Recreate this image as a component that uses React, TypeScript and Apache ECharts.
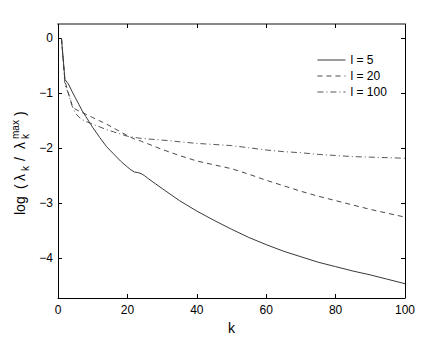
import React, { useEffect, useRef } from "react";
import * as echarts from "echarts";

const kValues = [1, 2, 3, 4, 5, 6, 7, 8, 10, 12, 14, 16, 18, 20, 21, 22, 23, 24, 25, 26, 28, 30, 35, 40, 45, 50, 55, 60, 65, 70, 75, 80, 85, 90, 95, 100];
const l5Values = [0, -0.75, -0.83, -0.96, -1.08, -1.2, -1.32, -1.42, -1.62, -1.8, -1.97, -2.1, -2.23, -2.34, -2.39, -2.43, -2.44, -2.46, -2.5, -2.55, -2.64, -2.73, -2.95, -3.14, -3.31, -3.47, -3.62, -3.75, -3.87, -3.97, -4.07, -4.15, -4.23, -4.3, -4.38, -4.46];
const l20Values = [0, -0.78, -1.0, -1.2, -1.29, -1.32, -1.35, -1.38, -1.44, -1.5, -1.56, -1.63, -1.7, -1.77, -1.8, -1.83, -1.85, -1.87, -1.9, -1.92, -1.97, -2.02, -2.13, -2.23, -2.3, -2.37, -2.47, -2.58, -2.68, -2.78, -2.87, -2.95, -3.03, -3.11, -3.18, -3.25];
const l100Values = [0, -0.85, -1.0, -1.22, -1.36, -1.43, -1.48, -1.51, -1.56, -1.61, -1.66, -1.7, -1.74, -1.78, -1.79, -1.8, -1.81, -1.82, -1.82, -1.83, -1.84, -1.85, -1.88, -1.91, -1.93, -1.95, -1.99, -2.03, -2.06, -2.08, -2.11, -2.13, -2.15, -2.16, -2.17, -2.18];
const seriesNames = ["l = 5", "l = 20", "l = 100"];
const xTicks = [0, 20, 40, 60, 80, 100];
const yTicks = [0, -1, -2, -3, -4];
const xAxisTitle = "k";

const FONT = "'Liberation Sans', Arial, Helvetica, sans-serif";

const pairs = (ys: number[]) => kValues.map((k, i) => [k, ys[i]]);

export default function App() {
  const ref = useRef<HTMLDivElement>(null);
  useEffect(() => {
    if (!ref.current) return;
    const chart = echarts.init(ref.current, null, { renderer: "svg" });
    const fmtY = (v: number) => String(v).replace("-", "\u2212");
    const baseAxisLine = { show: true, onZero: false, lineStyle: { color: "#000", width: 1 } };
    const tick = { show: true, inside: true, length: 4, lineStyle: { color: "#000", width: 1 } };
    const mainTxt = (text: string, x: number) => ({
      type: "text", x, y: 0,
      style: { text, font: `14px ${FONT}`, fill: "#000", align: "left", verticalAlign: "middle" },
    });
    const smallTxt = (text: string, x: number, y: number) => ({
      type: "text", x, y,
      style: { text, font: `10px ${FONT}`, fill: "#000", align: "left", verticalAlign: "middle" },
    });
    chart.setOption({
      animation: false,
      backgroundColor: "#fff",
      grid: { left: 58, right: 43, top: 24, bottom: 39, outerBoundsMode: "none" },
      legend: {
        show: true,
        orient: "vertical",
        left: 312,
        top: 49,
        itemWidth: 28,
        itemHeight: 14,
        itemGap: 4,
        data: seriesNames,
        itemStyle: { color: "rgba(0,0,0,0)", borderWidth: 0, opacity: 0 },
        lineStyle: { width: 0.9 },
        textStyle: { fontFamily: FONT, fontSize: 12, color: "#000" },
      },
      xAxis: [
        {
          type: "value", min: xTicks[0], max: xTicks[xTicks.length - 1], interval: 20, position: "bottom",
          axisLine: baseAxisLine, axisTick: tick,
          axisLabel: { fontFamily: FONT, fontSize: 12, color: "#000", margin: 6 },
          splitLine: { show: false },
          name: xAxisTitle, nameLocation: "middle", nameGap: 20,
          nameTextStyle: { fontFamily: FONT, fontSize: 14, color: "#000" },
        },
        {
          type: "value", min: xTicks[0], max: xTicks[xTicks.length - 1], interval: 20, position: "top",
          axisLine: { show: true, onZero: false, lineStyle: { color: "#888", width: 2 } },
          axisTick: tick, axisLabel: { show: false }, splitLine: { show: false },
        },
      ],
      yAxis: [
        {
          type: "value", min: -4.72, max: 0.26, position: "left",
          axisLine: baseAxisLine,
          axisTick: { ...tick, customValues: yTicks },
          axisLabel: { customValues: yTicks, formatter: fmtY, fontFamily: FONT, fontSize: 12, color: "#000", margin: 5 },
          splitLine: { show: false },
        },
        {
          type: "value", min: -4.72, max: 0.26, position: "right",
          axisLine: baseAxisLine,
          axisTick: { ...tick, customValues: yTicks },
          axisLabel: { show: false }, splitLine: { show: false },
        },
      ],
      graphic: [
        {
          type: "group", x: 20, y: 215, rotation: Math.PI / 2,
          children: [
            mainTxt("log", 0),
            mainTxt("(", 26),
            mainTxt("\u03bb", 34),
            smallTxt("k", 44, 5),
            mainTxt("/", 54),
            mainTxt("\u03bb", 66),
            smallTxt("max", 76, -5),
            smallTxt("k", 76, 5),
            mainTxt(")", 99),
          ],
        },
      ],
      series: [
        {
          name: seriesNames[0], type: "line", data: pairs(l5Values), symbol: "none",
          lineStyle: { color: "#222", width: 0.9, type: "solid" }, itemStyle: { color: "#222" },
        },
        {
          name: seriesNames[1], type: "line", data: pairs(l20Values), symbol: "none",
          lineStyle: { color: "#333", width: 0.9, type: [5, 4] }, itemStyle: { color: "#333" },
        },
        {
          name: seriesNames[2], type: "line", data: pairs(l100Values), symbol: "none",
          lineStyle: { color: "#444", width: 0.9, type: [6, 3, 1, 3] }, itemStyle: { color: "#444" },
        },
      ],
    });
    return () => chart.dispose();
  }, []);
  return (
    <div
      ref={ref}
      style={{ position: "fixed", left: 0, top: 0, width: 448, height: 337, background: "#fff" }}
    />
  );
}
